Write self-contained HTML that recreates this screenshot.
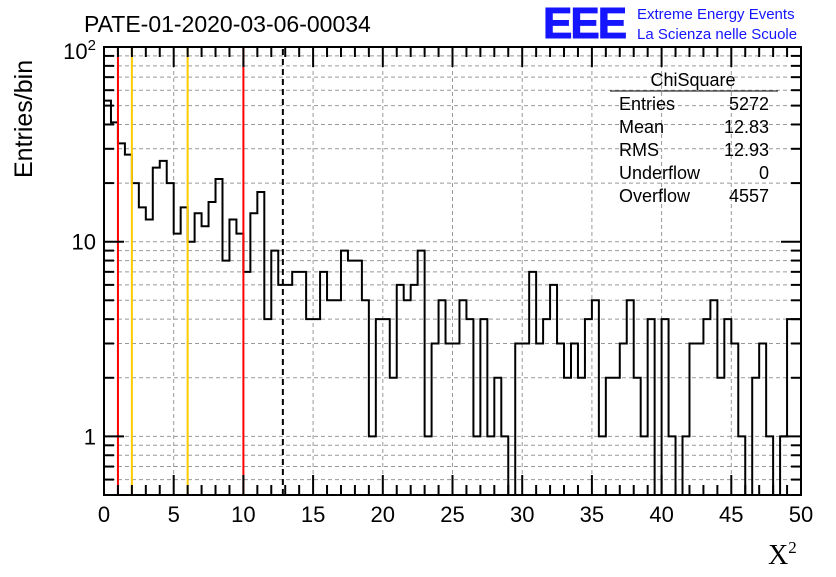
<!DOCTYPE html>
<html><head><meta charset="utf-8"><style>
body{margin:0;background:#fff;}
svg text{font-family:"Liberation Sans",sans-serif;}
</style></head><body>
<svg id="c" width="836" height="572" xmlns="http://www.w3.org/2000/svg">
<text x="84" y="32" font-size="23">PATE-01-2020-03-06-00034</text>
<text x="543" y="38" font-size="44" font-weight="bold" fill="#1515ff" stroke="#1515ff" stroke-width="1" style="letter-spacing:-2px">EEE</text>
<text x="637" y="19" font-size="15" fill="#1515ff">Extreme Energy Events</text>
<text x="637" y="39" font-size="15" fill="#1515ff">La Scienza nelle Scuole</text>
<text transform="translate(32,178) rotate(-90)" font-size="25">Entries/bin</text>
<text x="768" y="564" font-size="28" style="font-family:'Liberation Serif',serif">X<tspan font-size="17" dy="-11">2</tspan></text>
<g id="grid"></g><g id="hist"></g><g id="lines"></g><g id="axes"></g>
<g font-size="18">
<text x="693" y="86" text-anchor="middle">ChiSquare</text>
<line x1="610" y1="91" x2="778" y2="91" stroke="#000"/>
<text x="619" y="110">Entries</text><text x="769" y="110" text-anchor="end">5272</text>
<text x="619" y="133">Mean</text><text x="769" y="133" text-anchor="end">12.83</text>
<text x="619" y="156">RMS</text><text x="769" y="156" text-anchor="end">12.93</text>
<text x="619" y="179">Underflow</text><text x="769" y="179" text-anchor="end">0</text>
<text x="619" y="202">Overflow</text><text x="769" y="202" text-anchor="end">4557</text>
</g>
</svg>
<script>
const binWidth = 0.5;
const counts = [53,41,32,28,20,15,13,24,26,20,11,15,10,14,12,16,21,8,13,11,7,14,18,4,9,6,6,7,7,4,4,7,5,5,9,8,8,5,1,4,4,2,6,5,6,9,1,3,5,3,3,5,4,1,4,1,2,1,0,3,3,7,3,4,6,3,2,3,2,4,5,1,2,2,3,5,2,1,4,0,4,1,0,1,3,3,4,5,2,4,3,1,0,2,3,1,0,1,4,4];
const xTicks = [0,5,10,15,20,25,30,35,40,45,50];
const redLines = [1,10];
const yellowLines = [2,6];
const meanLine = [12.83];
const X0=104,X1=801,Y0=495,Y1=47,xmin=0,xmax=50,ymin=0.5,ymax=100;
const sx=v=>X0+(v-xmin)/(xmax-xmin)*(X1-X0);
const sy=v=>{v=Math.max(v,ymin);return Y0-(Math.log10(v)-Math.log10(ymin))/(Math.log10(ymax)-Math.log10(ymin))*(Y0-Y1);};
const NS='http://www.w3.org/2000/svg';
function mk(t,a,p){const e=document.createElementNS(NS,t);for(const k in a)e.setAttribute(k,a[k]);document.getElementById(p).appendChild(e);return e;}
// grid
for(const t of xTicks){if(t===0||t===50)continue;const e=mk('line',{x1:sx(t),x2:sx(t),y1:Y0,y2:Y1,stroke:'#999','stroke-dasharray':'4,3'},'grid');

}
const yt=[];for(let d of [0.1,1,10])for(let m=1;m<10;m++){const v=d*m;if(v>=ymin&&v<=ymax)yt.push(v);}yt.push(100);
for(const v of yt){const e=mk('line',{x1:X0,x2:X1,y1:sy(v),y2:sy(v),stroke:'#999','stroke-dasharray':'4,3'},'grid');

}
// histogram
let d='M'+X0+','+Y0;
counts.forEach((c,i)=>{const y=c>0?sy(c):Y0;d+=' L'+sx(i*binWidth)+','+y+' L'+sx((i+1)*binWidth)+','+y;});
d+=' L'+X1+','+Y0;
const h=mk('path',{d:d,fill:'none',stroke:'#000','stroke-width':2},'hist');


// lines
for(const v of redLines){const e=mk('line',{x1:sx(v),x2:sx(v),y1:Y0,y2:Y1,stroke:'#f00','stroke-width':2},'lines');

}
for(const v of yellowLines){const e=mk('line',{x1:sx(v),x2:sx(v),y1:Y0,y2:Y1,stroke:'#fc0','stroke-width':2},'lines');

}
for(const v of meanLine){const e=mk('line',{x1:sx(v),x2:sx(v),y1:Y0,y2:Y1,stroke:'#000','stroke-width':2,'stroke-dasharray':'6,4'},'lines');

}
// axes frame
const f=mk('rect',{x:X0,y:Y1,width:X1-X0,height:Y0-Y1,fill:'none',stroke:'#000','stroke-width':2},'axes');


for(let t=0;t<=50;t++){const L=t%5===0?20:10;
mk('line',{x1:sx(t),x2:sx(t),y1:Y0,y2:Y0-L,stroke:'#000','stroke-width':2},'axes');
mk('line',{x1:sx(t),x2:sx(t),y1:Y1,y2:Y1+L,stroke:'#000','stroke-width':2},'axes');}
for(const t of xTicks){const e=mk('text',{x:sx(t),y:522,'text-anchor':'middle','font-size':22},'axes');e.textContent=t;

}
for(const v of yt){const major=[1,10,100].includes(Math.round(v*10)/10);const L=major?20:10;
mk('line',{x1:X0,x2:X0+L,y1:sy(v),y2:sy(v),stroke:'#000','stroke-width':2},'axes');
mk('line',{x1:X1,x2:X1-L,y1:sy(v),y2:sy(v),stroke:'#000','stroke-width':2},'axes');}
const yl=[[1,'1'],[10,'10']];
for(const [v,s] of yl){const e=mk('text',{x:96,y:sy(v)+8,'text-anchor':'end','font-size':22},'axes');e.textContent=s;

}
const e2=mk('text',{x:96,y:sy(100)+12,'text-anchor':'end','font-size':22},'axes');
e2.innerHTML='10<tspan font-size="15" dy="-9">2</tspan>';


</script>
</body></html>
